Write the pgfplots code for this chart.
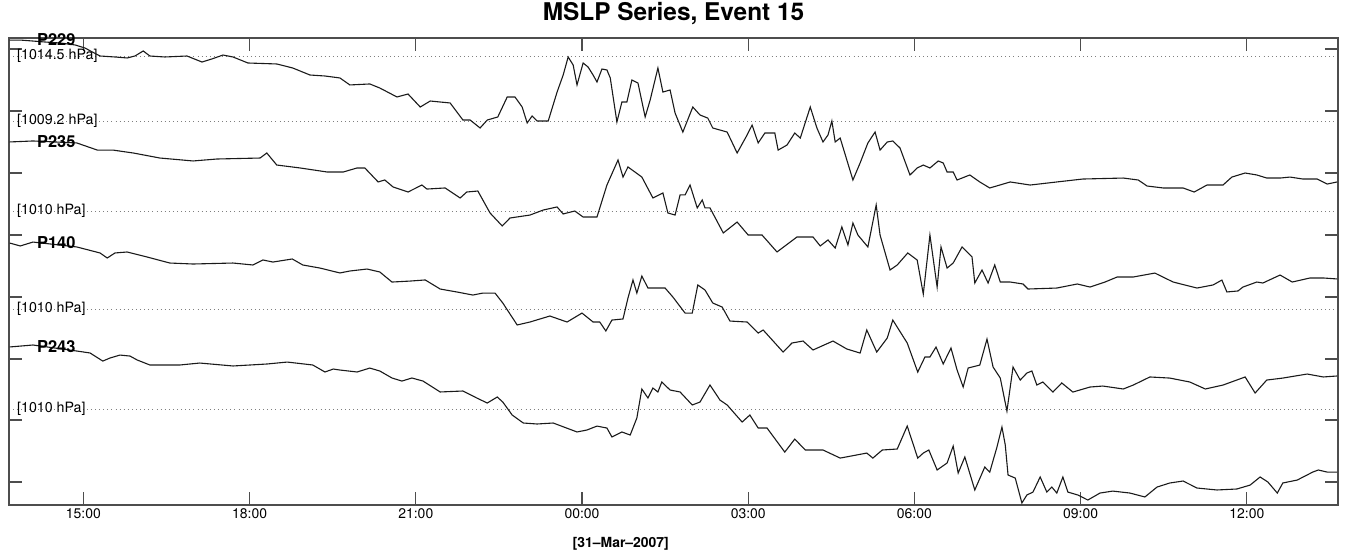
\documentclass[border=0pt]{standalone}
\usepackage{fontspec}
\setmainfont{TeX Gyre Heros}
\usepackage{pgfplots}
\usepackage{pgfplotstable}
\pgfplotsset{compat=1.18}

\definecolor{trace}{HTML}{1A1A1A}
\definecolor{frame}{HTML}{4D4D4D}
\definecolor{refline}{HTML}{7F7F7F}

% MSLP (hPa) against time (hours from 00:00, 31-Mar-2007)
\pgfplotstableread{
t p
-10.33 1015.80
-10.14 1015.80
-9.91 1015.72
-9.69 1015.64
-9.42 1015.56
-9.15 1015.40
-8.97 1015.15
-8.84 1014.83
-8.70 1014.50
-8.43 1014.42
-8.21 1014.34
-8.07 1014.50
-7.92 1014.91
-7.80 1014.50
-7.53 1014.42
-7.13 1014.50
-6.86 1014.01
-6.68 1014.26
-6.48 1014.58
-6.30 1014.42
-6.03 1013.93
-5.51 1013.85
-5.22 1013.52
-4.91 1012.95
-4.64 1012.87
-4.37 1012.71
-4.19 1012.14
-3.83 1012.22
-3.65 1011.89
-3.34 1011.16
-3.14 1011.40
-2.92 1010.34
-2.74 1010.83
-2.38 1010.67
-2.15 1009.28
-2.02 1009.28
-1.84 1008.63
-1.71 1009.28
-1.52 1009.53
-1.35 1011.16
-1.21 1011.16
-1.08 1010.34
-0.99 1009.04
-0.90 1009.61
-0.81 1009.20
-0.61 1009.20
-0.45 1011.56
-0.34 1012.95
-0.25 1014.42
-0.16 1013.77
-0.09 1012.14
0.02 1013.93
0.11 1013.60
0.20 1012.95
0.27 1012.38
0.36 1013.44
0.45 1013.36
0.51 1012.71
0.63 1009.12
0.72 1010.75
0.81 1010.75
0.90 1012.54
1.01 1012.30
1.14 1009.53
1.23 1010.91
1.37 1013.52
1.46 1011.56
1.59 1011.73
1.68 1009.85
1.82 1008.30
2.00 1010.34
2.13 1009.69
2.27 1009.44
2.36 1008.63
2.62 1008.30
2.80 1006.59
2.98 1008.06
3.07 1008.87
3.18 1007.41
3.30 1008.22
3.48 1008.22
3.54 1006.83
3.70 1007.24
3.84 1008.22
3.94 1007.81
4.12 1010.34
4.24 1008.63
4.35 1007.49
4.44 1008.06
4.51 1009.20
4.57 1007.49
4.66 1007.81
4.89 1004.39
5.02 1005.78
5.16 1007.41
5.29 1008.30
5.38 1006.83
5.51 1007.49
5.61 1007.57
5.74 1007.00
5.92 1004.80
6.05 1005.37
6.16 1005.61
6.28 1005.37
6.43 1005.94
6.52 1005.78
6.59 1005.04
6.70 1005.04
6.77 1004.39
7.00 1004.80
7.18 1004.23
7.36 1003.74
7.73 1004.23
8.09 1003.98
8.57 1004.23
9.04 1004.47
9.77 1004.55
10.04 1004.39
10.20 1003.90
10.49 1003.74
10.85 1003.74
11.05 1003.41
11.28 1003.98
11.57 1003.98
11.73 1004.63
11.97 1004.96
12.18 1004.80
12.36 1004.55
12.60 1004.55
12.78 1004.63
13.01 1004.47
13.27 1004.47
13.45 1004.06
13.63 1004.23
}\stationA

\pgfplotstableread{
t p
-10.33 1015.63
-9.91 1015.71
-9.12 1015.55
-8.75 1014.97
-8.47 1014.97
-8.10 1014.73
-7.62 1014.32
-7.02 1014.08
-6.59 1014.24
-5.81 1014.32
-5.69 1014.73
-5.51 1013.75
-5.09 1013.51
-4.60 1013.18
-4.31 1013.18
-4.06 1013.51
-3.92 1013.51
-3.68 1012.37
-3.56 1012.53
-3.41 1011.96
-3.14 1011.55
-2.89 1012.12
-2.80 1011.79
-2.47 1011.88
-2.20 1011.06
-2.08 1011.55
-1.88 1011.63
-1.66 1009.84
-1.44 1008.78
-1.30 1009.43
-0.94 1009.67
-0.70 1010.08
-0.45 1010.33
-0.34 1009.76
-0.13 1010.00
0.02 1009.51
0.27 1009.51
0.45 1012.12
0.65 1014.16
0.74 1012.77
0.83 1013.59
1.08 1012.77
1.28 1011.06
1.46 1011.47
1.55 1009.84
1.68 1009.67
1.77 1011.31
1.86 1011.31
1.95 1012.12
2.08 1010.25
2.17 1010.90
2.22 1010.25
2.31 1010.25
2.55 1008.21
2.80 1009.10
3.00 1008.04
3.25 1008.04
3.52 1006.66
3.88 1007.88
4.17 1007.88
4.30 1007.15
4.44 1007.64
4.57 1006.98
4.69 1008.70
4.80 1007.23
4.89 1009.02
4.98 1008.04
5.16 1007.07
5.31 1010.49
5.38 1008.04
5.56 1005.19
5.69 1005.60
5.88 1006.58
6.05 1006.00
6.16 1003.23
6.28 1008.04
6.41 1003.80
6.48 1007.07
6.59 1005.35
6.70 1005.76
6.86 1007.07
7.04 1006.25
7.09 1004.13
7.22 1005.19
7.33 1004.13
7.45 1005.60
7.55 1004.21
7.73 1004.21
7.96 1004.05
8.05 1003.64
8.57 1003.72
8.94 1004.05
9.17 1003.80
9.44 1004.21
9.66 1004.62
9.95 1004.62
10.34 1004.94
10.67 1004.21
11.10 1003.72
11.39 1003.97
11.55 1004.37
11.64 1003.40
11.84 1003.48
11.93 1003.80
12.18 1004.21
12.29 1004.13
12.60 1004.78
12.82 1004.21
13.14 1004.54
13.38 1004.54
13.63 1004.46
}\stationB

\pgfplotstableread{
t p
-10.33 1015.38
-10.14 1015.14
-9.91 1015.46
-9.12 1015.06
-8.70 1014.57
-8.57 1014.16
-8.43 1014.57
-8.21 1014.65
-7.85 1014.24
-7.44 1013.75
-7.02 1013.67
-6.30 1013.75
-5.94 1013.59
-5.76 1014.00
-5.58 1013.83
-5.23 1014.08
-5.04 1013.59
-4.73 1013.34
-4.37 1012.94
-4.19 1013.10
-3.88 1013.26
-3.65 1013.02
-3.43 1012.20
-3.10 1012.28
-2.83 1012.37
-2.56 1011.63
-2.26 1011.39
-1.97 1011.14
-1.79 1011.30
-1.57 1011.30
-1.43 1010.49
-1.17 1008.70
-0.94 1008.94
-0.58 1009.43
-0.27 1008.94
0.00 1009.67
0.20 1008.94
0.32 1008.94
0.43 1008.21
0.54 1009.10
0.74 1009.19
0.83 1010.90
0.92 1012.37
0.99 1011.30
1.08 1012.69
1.19 1011.71
1.35 1011.71
1.50 1011.71
1.64 1010.98
1.86 1009.67
1.99 1009.67
2.09 1011.96
2.22 1011.55
2.36 1010.49
2.53 1010.16
2.67 1009.02
2.98 1008.94
3.18 1008.04
3.27 1008.29
3.63 1006.49
3.79 1007.23
3.99 1007.39
4.17 1006.66
4.53 1007.39
4.78 1006.74
5.02 1006.41
5.14 1008.29
5.32 1006.49
5.51 1007.64
5.61 1009.10
5.70 1008.45
5.87 1007.23
6.06 1004.86
6.19 1006.09
6.28 1006.09
6.39 1006.90
6.52 1005.52
6.66 1006.82
6.77 1005.03
6.88 1003.64
6.97 1005.19
7.18 1005.43
7.31 1007.55
7.42 1005.27
7.55 1004.37
7.67 1001.68
7.78 1005.27
7.91 1004.21
8.03 1004.78
8.12 1004.95
8.21 1003.80
8.32 1004.05
8.50 1003.23
8.66 1003.97
8.86 1003.23
9.17 1003.64
9.40 1003.72
9.77 1003.48
9.95 1003.80
10.25 1004.46
10.61 1004.37
10.97 1004.05
11.25 1003.48
11.57 1003.80
11.97 1004.46
12.15 1003.15
12.36 1004.21
12.65 1004.37
13.09 1004.70
13.38 1004.46
13.63 1004.54
}\stationC

\pgfplotstableread{
t p
-10.33 1015.06
-9.91 1015.22
-9.12 1014.73
-8.88 1014.57
-8.65 1013.91
-8.52 1014.16
-8.34 1014.40
-8.16 1014.32
-8.03 1014.00
-7.80 1013.59
-7.26 1013.59
-6.90 1013.75
-6.30 1013.51
-5.69 1013.67
-5.32 1013.83
-4.86 1013.59
-4.64 1013.02
-4.49 1013.26
-4.37 1013.18
-4.06 1013.02
-3.83 1013.34
-3.65 1013.10
-3.43 1012.53
-3.25 1012.28
-3.07 1012.53
-2.87 1012.28
-2.56 1011.39
-2.15 1011.47
-1.90 1010.90
-1.71 1010.49
-1.53 1010.98
-1.43 1010.57
-1.26 1009.51
-1.06 1008.86
-0.81 1008.78
-0.52 1008.86
-0.09 1008.13
0.09 1008.29
0.27 1008.61
0.45 1008.45
0.54 1007.72
0.72 1008.13
0.87 1007.88
0.99 1009.27
1.08 1011.63
1.19 1010.90
1.28 1011.71
1.37 1011.39
1.44 1012.20
1.59 1011.55
1.77 1011.39
1.99 1010.33
2.13 1010.57
2.31 1011.96
2.49 1010.73
2.62 1010.33
2.89 1008.94
3.03 1009.51
3.18 1008.45
3.34 1008.45
3.66 1006.49
3.84 1007.55
4.03 1006.66
4.35 1006.66
4.66 1006.00
5.14 1006.41
5.25 1006.00
5.42 1006.66
5.69 1006.74
5.87 1008.61
6.06 1006.00
6.16 1006.41
6.26 1006.66
6.41 1005.03
6.59 1005.60
6.70 1006.98
6.79 1004.78
6.91 1006.09
7.09 1003.40
7.27 1005.27
7.36 1004.86
7.49 1006.90
7.58 1008.53
7.64 1007.07
7.69 1004.62
7.82 1004.37
7.94 1002.34
8.03 1002.99
8.14 1003.23
8.27 1004.46
8.39 1003.23
8.48 1003.64
8.57 1003.15
8.68 1004.46
8.77 1003.23
8.95 1002.99
9.13 1002.58
9.35 1003.15
9.58 1003.31
9.89 1003.15
10.16 1002.83
10.38 1003.64
10.61 1003.97
10.85 1004.13
11.10 1003.56
11.46 1003.40
11.82 1003.48
12.06 1003.80
12.24 1004.46
12.38 1004.05
12.55 1003.15
12.65 1003.97
12.91 1004.21
13.19 1004.86
13.29 1005.03
13.45 1004.86
13.63 1004.86
}\stationD

% vertical offsets (hPa) that stack the four stations
\def\offA{977.889}
\def\offB{986.027}
\def\offC{994.018}
\def\offD{1002.172}

\begin{document}
\begin{tikzpicture}
\begin{axis}[
  width=1329bp, height=467bp, scale only axis,
  xmin=-10.343, xmax=13.646, ymin=0, ymax=38.079,
  clip=false,
  axis line style={frame, line width=1.2bp},
  tick align=inside, major tick length=13bp,
  tick style={frame, line width=1.2bp},
  xtick={-9,-6,-3,0,3,6,9,12},
  xticklabels={15:00,18:00,21:00,00:00,03:00,06:00,09:00,12:00},
  xticklabel style={font=\fontsize{14}{16}\selectfont},
  ytick={1.88,6.93,11.91,16.96,22.02,27.07,32.13,37.18},
  yticklabels={},
]
  % reference levels
  \foreach \lev in {36.611,31.311,23.973,15.982,7.828}{
    \edef\tmp{\noexpand\addplot[refline, line width=0.8bp, dash pattern=on 0.9bp off 3.2bp, forget plot]
      coordinates {(-10.27,\lev) (13.59,\lev)};}\tmp
  }
  \node[anchor=west, font=\fontsize{14.3}{16}\selectfont, inner sep=0pt] at (axis cs:-10.20,36.611) {[1014.5 hPa]};
  \node[anchor=west, font=\fontsize{14.3}{16}\selectfont, inner sep=0pt] at (axis cs:-10.20,31.311) {[1009.2 hPa]};
  \node[anchor=west, font=\fontsize{14.3}{16}\selectfont, inner sep=0pt] at (axis cs:-10.20,23.973) {[1010 hPa]};
  \node[anchor=west, font=\fontsize{14.3}{16}\selectfont, inner sep=0pt] at (axis cs:-10.20,15.982) {[1010 hPa]};
  \node[anchor=west, font=\fontsize{14.3}{16}\selectfont, inner sep=0pt] at (axis cs:-10.20,7.828) {[1010 hPa]};

  % station traces
  \addplot[trace, line width=1.1bp] table[x=t, y expr=\thisrow{p}-\offA] {\stationA};
  \addplot[trace, line width=1.1bp] table[x=t, y expr=\thisrow{p}-\offB] {\stationB};
  \addplot[trace, line width=1.1bp] table[x=t, y expr=\thisrow{p}-\offC] {\stationC};
  \addplot[trace, line width=1.1bp] table[x=t, y expr=\thisrow{p}-\offD] {\stationD};

  % station names at the start of each trace
  \node[anchor=west, font=\bfseries\fontsize{16.5}{18}\selectfont, inner sep=0pt] at (axis cs:-9.84,37.91) {P229};
  \node[anchor=west, font=\bfseries\fontsize{16.5}{18}\selectfont, inner sep=0pt] at (axis cs:-9.84,29.60) {P235};
  \node[anchor=west, font=\bfseries\fontsize{16.5}{18}\selectfont, inner sep=0pt] at (axis cs:-9.84,21.36) {P140};
  \node[anchor=west, font=\bfseries\fontsize{16.5}{18}\selectfont, inner sep=0pt] at (axis cs:-9.84,12.89) {P243};

  % title and date label
  \node[font=\bfseries\fontsize{24.5}{28}\selectfont] at ([yshift=24bp]rel axis cs:0.5,1) {MSLP Series, Event 15};
  \node[font=\bfseries\fontsize{14}{16}\selectfont] at ([yshift=-39bp]axis cs:0.70,0) {[31–Mar–2007]};
\end{axis}
\pgfresetboundingbox
\path[use as bounding box] ([xshift=-9bp,yshift=-49bp]current axis.south west) rectangle ([xshift=10bp,yshift=38bp]current axis.north east);
\end{tikzpicture}
\end{document}
